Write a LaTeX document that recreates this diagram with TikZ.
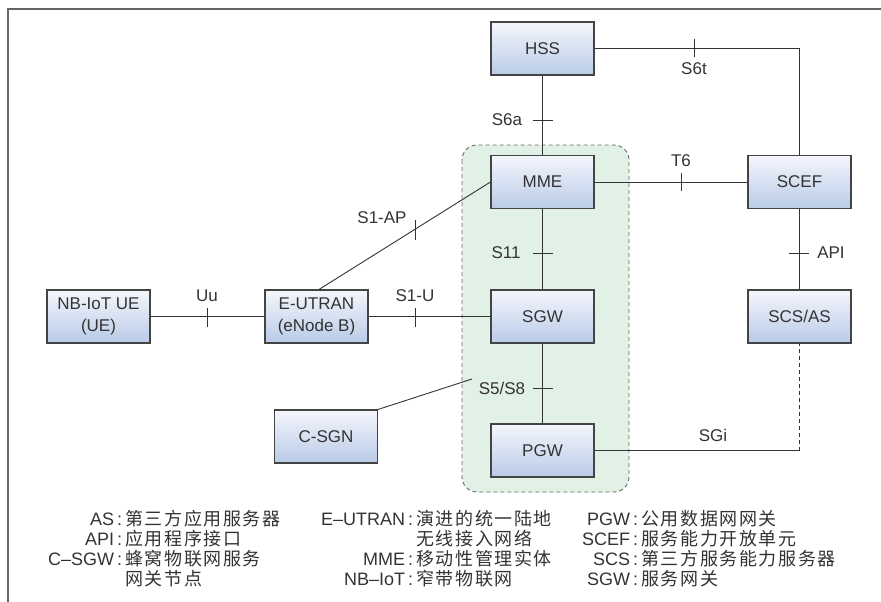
\documentclass[tikz,border=0pt]{standalone}
\usepackage{fontspec}
\setmainfont{Liberation Sans}
\newfontfamily\cjk[LetterSpace=9]{Noto Sans CJK SC}
\usetikzlibrary{calc}
\definecolor{ink}{HTML}{333333}
\definecolor{boxline}{HTML}{444444}
\definecolor{boxtop}{HTML}{F4F6FC}
\definecolor{boxbot}{HTML}{B9CBE7}
\definecolor{zone}{HTML}{E2F1E6}
\definecolor{zoneline}{HTML}{666666}
\definecolor{frame}{HTML}{666666}
\begin{document}
\begin{tikzpicture}[x=1pt,y=-1pt,
  every node/.style={text=ink},
  nbox/.style={draw=boxline, line width=1.1pt, minimum width=103pt, minimum height=53pt,
    inner sep=0pt, top color=boxtop, bottom color=boxbot, align=center,
    font=\fontsize{17}{22}\selectfont},
  link/.style={draw=ink, line width=0.9pt},
  tick/.style={draw=ink, line width=0.9pt},
  lab/.style={font=\fontsize{17}{20}\selectfont, inner sep=0pt},
  leg/.style={anchor=base west, inner sep=0pt, font=\fontsize{18}{20}\selectfont}]
\useasboundingbox (0,0) rectangle (881,602);
% frame
\draw[frame, line width=1.4pt] (881,9) -- (8,9) -- (8,602);
% green zone
\draw[zoneline, fill=zone, dashed, dash pattern=on 4pt off 3pt, line width=0.9pt, rounded corners=15pt]
  (462,145) rectangle (629,492);
% boxes
\node[nbox] (hss)  at (542.5,48.5)  {HSS};
\node[nbox] (mme)  at (542.5,182)   {MME};
\node[nbox] (sgw)  at (542.5,316.5) {SGW};
\node[nbox] (pgw)  at (542.5,450.5) {PGW};
\node[nbox] (scef) at (799.5,182)   {SCEF};
\node[nbox] (scs)  at (799.5,316.5) {SCS/AS};
\node[nbox] (ue)   at (98.5,316.5)  {NB-IoT UE\\(UE)};
\node[nbox] (enb)  at (316.5,316.5) {E-UTRAN\\(eNode B)};
\node[nbox] (csgn) at (326,436.5)   {C-SGN};
% connectors
\draw[link] (hss.east) -- (scef.north |- hss.east) -- (scef.north);
\draw[link] (hss.south) -- (mme.north);
\draw[link] (mme.east) -- (scef.west);
\draw[link] (mme.south) -- (sgw.north);
\draw[link] (scef.south) -- (scs.north);
\draw[link] (ue.east) -- (enb.east -| enb.west);
\draw[link] (enb.east) -- (sgw.west);
\draw[link] (sgw.south) -- (pgw.north);
\draw[link] ($(enb.north west)!0.5!(enb.north east)+(2.5,0)$) -- (mme.west);
\coordinate (c5) at (472,379);
\draw[link] (csgn.north east) -- (c5);
\draw[link] (pgw.east) -- (scs.south |- pgw.east);
\draw[link, dashed, dash pattern=on 4pt off 3pt] (scs.south |- pgw.east) -- (scs.south);
% ticks
\draw[tick] (694,39) -- (694,57);
\draw[tick] (533,120) -- (553,120);
\draw[tick] (681,173) -- (681,191);
\draw[tick] (533,253) -- (553,253);
\draw[tick] (789,253) -- (809,253);
\draw[tick] (415,220) -- (415,240);
\draw[tick] (207,308) -- (207,327);
\draw[tick] (415,308) -- (415,327);
\draw[tick] (533,388) -- (553,388);
% connector labels
\node[lab] (ls6t) at (694,69) {S6t};
\node[lab] (ls6a) at (507,120) {S6a};
\node[lab] (lt6)  at (681,161) {T6};
\node[lab] (ls11) at (506,253) {S11};
\node[lab] (lapi) at (831,253) {API};
\node[lab] (ls1ap) at (382,218) {S1-AP};
\node[lab] (luu)  at (207,296) {Uu};
\node[lab] (ls1u) at (415,296) {S1-U};
\node[lab] (ls58) at (502,388) {S5/S8};
\node[lab] (lsgi) at (713,435) {SGi};
% legend
\node[leg] (g1) at (125,525) {\makebox[0pt][r]{AS\,:\,}{\cjk 第三方应用服务器}};
\node[leg] (g2) at (125,545) {\makebox[0pt][r]{API\,:\,}{\cjk 应用程序接口}};
\node[leg] (g3) at (125,565) {\makebox[0pt][r]{C--SGW\,:\,}{\cjk 蜂窝物联网服务}};
\node[leg] (g4) at (125,585) {{\cjk 网关节点}};
\node[leg] (g5) at (416,525) {\makebox[0pt][r]{E--UTRAN\,:\,}{\cjk 演进的统一陆地}};
\node[leg] (g6) at (416,545) {{\cjk 无线接入网络}};
\node[leg] (g7) at (416,565) {\makebox[0pt][r]{MME\,:\,}{\cjk 移动性管理实体}};
\node[leg] (g8) at (416,585) {\makebox[0pt][r]{NB--IoT\,:\,}{\cjk 窄带物联网}};
\node[leg] (g9) at (641,525) {\makebox[0pt][r]{PGW\,:\,}{\cjk 公用数据网网关}};
\node[leg] (g10) at (641,545) {\makebox[0pt][r]{SCEF\,:\,}{\cjk 服务能力开放单元}};
\node[leg] (g11) at (641,565) {\makebox[0pt][r]{SCS\,:\,}{\cjk 第三方服务能力服务器}};
\node[leg] (g12) at (641,585) {\makebox[0pt][r]{SGW\,:\,}{\cjk 服务网关}};
\end{tikzpicture}
\end{document}
